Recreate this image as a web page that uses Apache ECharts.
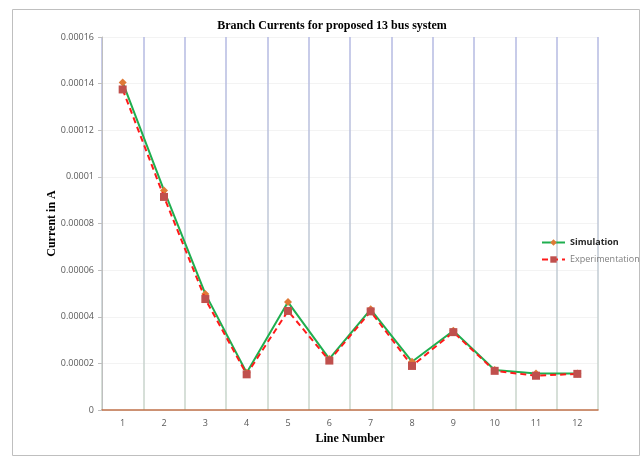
<!DOCTYPE html>
<html><head><meta charset="utf-8">
<script src="https://cdn.jsdelivr.net/npm/echarts@6/dist/echarts.min.js"></script>
<style>html,body{margin:0;padding:0;background:#fff}#c{width:642px;height:457px}</style>
</head><body><div id="c"></div>
<script>
const lineNumbers = ['1','2','3','4','5','6','7','8','9','10','11','12'];
const simulation = [0.0001405, 0.0000942, 0.0000498, 0.0000160, 0.0000463, 0.0000219, 0.0000432, 0.0000207, 0.0000340, 0.0000172, 0.0000157, 0.0000157];
const experimentation = [0.0001375, 0.0000914, 0.0000476, 0.0000153, 0.0000425, 0.0000212, 0.0000423, 0.0000189, 0.0000334, 0.0000168, 0.0000147, 0.0000155];
const yMin = 0, yMax = 0.00016, yStep = 0.00002;

const chart = echarts.init(document.getElementById('c'));
const serif = '"Liberation Serif","DejaVu Serif",serif';
const sans = '"Open Sans","Noto Sans",sans-serif';
chart.setOption({
  animation: false,
  backgroundColor: '#fff',
  graphic: [{type:'rect', shape:{x:12.5,y:9.5,width:627,height:446}, style:{fill:'none', stroke:'#bfbfbf', lineWidth:1}, silent:true}],
  title: {text:'Branch Currents for proposed 13 bus system', left: 327, textAlign:'center', top: 15,
    textStyle:{fontFamily: serif, fontWeight:'bold', fontSize:12, color:'#000'}},
  grid: {left:102, right:44, top:37, bottom:47, containLabel:false},
  legend: {orient:'vertical', left:536, top:233, itemWidth:23, itemHeight:8, itemGap:8,
    textStyle:{fontFamily: sans, fontSize:9, color:'#404040'},
    data:[{name:'Simulation', textStyle:{fontWeight:'bold', color:'#262626'}},
          {name:'Experimentation', textStyle:{color:'#7f7f7f'}}]},
  xAxis: {type:'category', data: lineNumbers, boundaryGap:true,
    name:'Line Number', nameLocation:'middle', nameGap:23,
    nameTextStyle:{fontFamily: serif, fontWeight:'bold', fontSize:12, color:'#000'},
    axisLine:{lineStyle:{color:'#c0714a', width:1.5}},
    axisTick:{show:false},
    axisLabel:{fontFamily: sans, fontSize:9, color:'#595959', margin:9},
    splitLine:{show:true, lineStyle:{width:1.5, color: new echarts.graphic.LinearGradient(0,0,0,1,[{offset:0,color:'#b4b9e3'},{offset:1,color:'#cad6ca'}])}}
  },
  yAxis: {type:'value', min:yMin, max:yMax, interval:yStep,
    name:'Current in A', nameLocation:'middle', nameGap:44, nameRotate:90, nameMoveOverlap:false,
    nameTextStyle:{fontFamily: serif, fontWeight:'bold', fontSize:12, color:'#000'},
    axisLine:{show:true, lineStyle:{color:'#bfbfbf'}},
    axisTick:{show:true, length:4, lineStyle:{color:'#bfbfbf'}},
    axisLabel:{fontFamily: sans, fontSize:9, color:'#595959', margin:8,
      formatter: v => v === 0 ? '0' : String(parseFloat(v.toFixed(6)))},
    splitLine:{show:true, lineStyle:{color:'#f3f3f3'}}
  },
  series: [
    {name:'Simulation', type:'line', data: simulation, symbol:'diamond', symbolSize:8,
      lineStyle:{color:'#1fae4f', width:2}, itemStyle:{color:'#e07a37'}, z:2},
    {name:'Experimentation', type:'line', data: experimentation, symbol:'rect', symbolSize:8,
      lineStyle:{color:'#ff1a1a', width:2, type:[6,4]}, itemStyle:{color:'#c0504d'}, z:3}
  ]
});
</script></body></html>
